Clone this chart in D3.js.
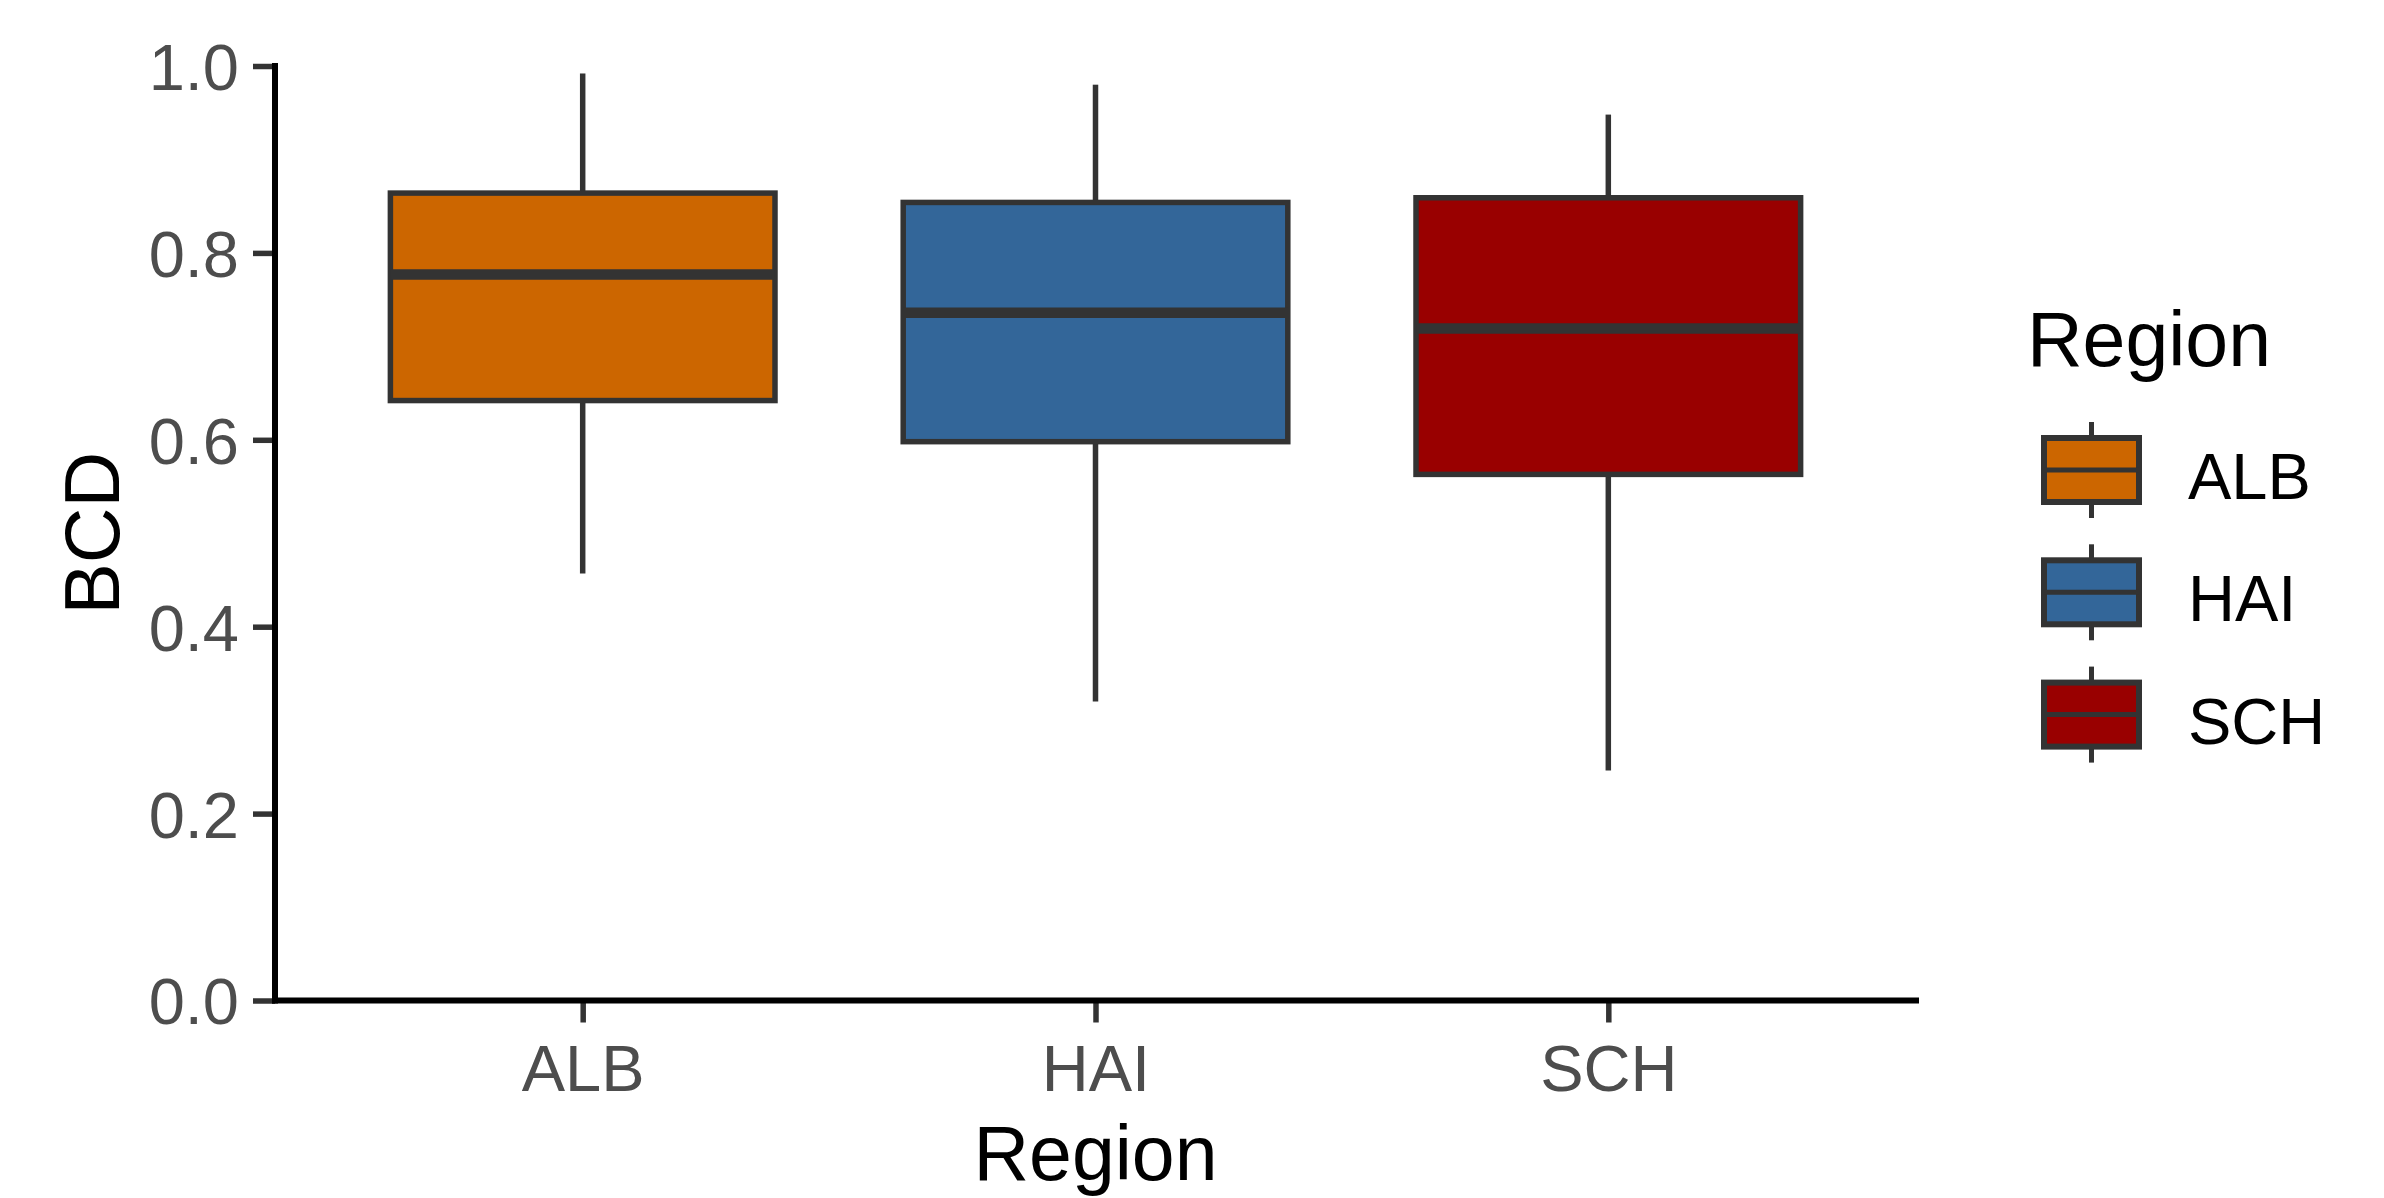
<!DOCTYPE html>
<html>
<head>
<meta charset="utf-8">
<script src="https://cdn.jsdelivr.net/npm/d3@7"></script>
<style>
  html, body { margin: 0; padding: 0; background: #ffffff; }
  svg { display: block; }
  text { font-family: "Liberation Sans", Arial, sans-serif; }
</style>
</head>
<body>
<svg id="chart" width="2384" height="1198"></svg>
<script>
// ---- data ----
const categories = ["ALB", "HAI", "SCH"];
const whiskerLow = [0.457, 0.320, 0.246];
const q1 = [0.642, 0.598, 0.563];
const median = [0.777, 0.736, 0.719];
const q3 = [0.864, 0.854, 0.859];
const whiskerHigh = [0.992, 0.980, 0.948];
const yTicks = [0.0, 0.2, 0.4, 0.6, 0.8, 1.0];
const palette = ["#CC6600", "#336699", "#990000"];

(function () {
const boxes = categories.map((c, i) => ({
  cat: c, lo: whiskerLow[i], q1: q1[i], med: median[i], q3: q3[i], hi: whiskerHigh[i]
}));

const svg = d3.select("#chart");
const pLeft = 275, pRight = 1916, pTop = 66, pBottom = 1000.5;

const x = d3.scalePoint().domain(categories).range([pLeft, pRight]).padding(0.6);
const y = d3.scaleLinear().domain([0, 1]).range([pBottom, pTop]);
const color = d3.scaleOrdinal().domain(categories).range(palette);

const boxW = x.step() * 0.75;
const outline = "#333333";

// boxes
const g = svg.append("g");
const bx = g.selectAll("g.box").data(boxes).enter().append("g").attr("class", "box");
bx.append("line")
  .attr("x1", d => x(d.cat)).attr("x2", d => x(d.cat))
  .attr("y1", d => y(d.q3)).attr("y2", d => y(d.hi))
  .attr("stroke", outline).attr("stroke-width", 5.5);
bx.append("line")
  .attr("x1", d => x(d.cat)).attr("x2", d => x(d.cat))
  .attr("y1", d => y(d.q1)).attr("y2", d => y(d.lo))
  .attr("stroke", outline).attr("stroke-width", 5.5);
bx.append("rect")
  .attr("x", d => x(d.cat) - boxW / 2).attr("width", boxW)
  .attr("y", d => y(d.q3)).attr("height", d => y(d.q1) - y(d.q3))
  .attr("fill", d => color(d.cat)).attr("stroke", outline).attr("stroke-width", 5.5);
bx.append("line")
  .attr("x1", d => x(d.cat) - boxW / 2).attr("x2", d => x(d.cat) + boxW / 2)
  .attr("y1", d => y(d.med)).attr("y2", d => y(d.med))
  .attr("stroke", outline).attr("stroke-width", 10.5);

// axes
const yAxis = d3.axisLeft(y).tickValues(yTicks).tickFormat(d3.format(".1f")).tickSize(22).tickPadding(14);
const ya = svg.append("g").attr("transform", `translate(${pLeft},0)`).call(yAxis);
const xAxis = d3.axisBottom(x).tickSize(22).tickPadding(22);
const xa = svg.append("g").attr("transform", `translate(0,${pBottom})`).call(xAxis);

[ya, xa].forEach(a => {
  a.select(".domain").remove();
  a.selectAll(".tick line").attr("stroke", "#333333").attr("stroke-width", 5.5);
  a.selectAll(".tick text").attr("fill", "#4D4D4D").attr("font-size", 65)
    .style("font-family", "'Liberation Sans', Arial, sans-serif");
});
ya.selectAll(".tick text").attr("dy", "0.36em");
xa.selectAll(".tick text").attr("dy", "0.72em");

// axis lines
svg.append("line").attr("x1", pLeft).attr("x2", pLeft).attr("y1", pTop).attr("y2", pBottom)
  .attr("stroke", "#000").attr("stroke-width", 6).attr("stroke-linecap", "square");
svg.append("line").attr("x1", pLeft).attr("x2", pRight).attr("y1", pBottom).attr("y2", pBottom)
  .attr("stroke", "#000").attr("stroke-width", 6).attr("stroke-linecap", "square");

// axis titles
svg.append("text").attr("x", (pLeft + pRight) / 2).attr("y", 1180)
  .attr("text-anchor", "middle").attr("font-size", 77).attr("fill", "#000").text("Region");
svg.append("text").attr("transform", `translate(119,${(pTop + pBottom) / 2}) rotate(-90)`)
  .attr("text-anchor", "middle").attr("font-size", 77).attr("fill", "#000").text("BCD");

// legend
const lg = svg.append("g");
lg.append("text").attr("x", 2027).attr("y", 366).attr("font-size", 77).attr("fill", "#000").text("Region");
const keyX = 2044, keyW = 95, keyH = 64, keyStep = 122.3, key0 = 470;
const items = lg.selectAll("g.item").data(categories).enter().append("g")
  .attr("transform", (d, i) => `translate(0,${key0 + i * keyStep})`);
items.append("line").attr("x1", keyX + keyW / 2).attr("x2", keyX + keyW / 2)
  .attr("y1", -48).attr("y2", 48).attr("stroke", outline).attr("stroke-width", 5);
items.append("rect").attr("x", keyX).attr("y", -keyH / 2).attr("width", keyW).attr("height", keyH)
  .attr("fill", d => color(d)).attr("stroke", outline).attr("stroke-width", 6);
items.append("line").attr("x1", keyX).attr("x2", keyX + keyW).attr("y1", 0).attr("y2", 0)
  .attr("stroke", outline).attr("stroke-width", 5);
items.append("text").attr("x", 2188).attr("y", 29).attr("font-size", 65).attr("fill", "#000").text(d => d);
})();
</script>
</body>
</html>
